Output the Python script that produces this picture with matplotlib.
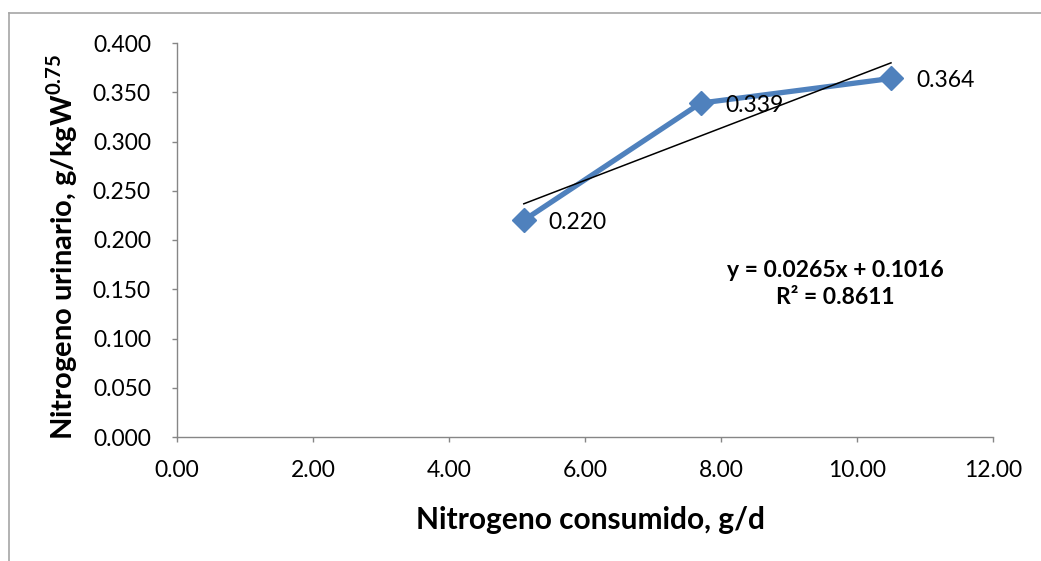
import matplotlib
matplotlib.use("Agg")
import matplotlib.pyplot as plt
from matplotlib.lines import Line2D
import numpy as np

plt.rcParams['font.family'] = ['Lato', 'DejaVu Sans']
plt.rcParams['mathtext.fontset'] = 'custom'
plt.rcParams['mathtext.bf'] = 'Lato:bold'
plt.rcParams['mathtext.rm'] = 'Lato'

x_vals = [5.1, 7.7, 10.5]
y_vals = [0.220, 0.339, 0.364]
point_labels = ["0.220", "0.339", "0.364"]
slope = 0.0265
intercept = 0.1016
eq_text = "y = 0.0265x + 0.1016\nR² = 0.8611"
x_ticks = [0, 2, 4, 6, 8, 10, 12]
y_ticks = [0.0, 0.05, 0.10, 0.15, 0.20, 0.25, 0.30, 0.35, 0.40]

W, H = 1041, 561
fig = plt.figure(figsize=(W / 100, H / 100), dpi=100)
ax = fig.add_axes([177 / W, 1 - 437 / H, (993 - 177) / W, (437 - 43) / H])

ax.plot(x_vals, y_vals, color="#4F81BD", lw=3.8, marker="D", markersize=12,
        markerfacecolor="#4F81BD", markeredgecolor="#4F81BD", zorder=3)

xt = np.array([x_vals[0], x_vals[-1]])
ax.plot(xt, slope * xt + intercept, color="black", lw=1.1, zorder=4)

for xv, yv, lab in zip(x_vals, y_vals, point_labels):
    ax.annotate(lab, (xv, yv), xytext=(18, -1.5), textcoords="offset points",
                ha="left", va="center", fontsize=16.5, color="black", zorder=5)

ax.text(9.68, 0.1553, eq_text, ha="center", va="center", fontsize=16.5,
        fontweight="bold", linespacing=1.3)

ax.set_xlim(0, 12)
ax.set_ylim(0, 0.4)
ax.set_xticks(x_ticks)
ax.set_yticks(y_ticks)
ax.set_xticklabels([f"{v:.2f}" for v in x_ticks])
ax.set_yticklabels([f"{v:.3f}" for v in y_ticks])

for s in ["top", "right"]:
    ax.spines[s].set_visible(False)
for s in ["left", "bottom"]:
    ax.spines[s].set_color("#868686")
    ax.spines[s].set_linewidth(1.0)
ax.tick_params(axis="both", direction="out", length=3.8, width=1.0,
               color="#868686", labelsize=16.5, labelcolor="black")
ax.tick_params(axis="x", pad=13)
ax.tick_params(axis="y", pad=15)

ax.set_xlabel("Nitrogeno consumido, g/d", fontsize=21.5, fontweight="bold")
ax.xaxis.set_label_coords((590 - 177) / 816, (437 - 520) / 394)
ax.xaxis.label.set_va("center")
ax.set_ylabel(r"Nitrogeno urinario, g/kgW$^{\mathbf{0.75}}$", fontsize=21,
              fontweight="bold")
ax.yaxis.set_label_coords((62 - 177) / 816, (437 - 247) / 394)
ax.yaxis.label.set_va("center")

fig.add_artist(Line2D([9 / W, 1.0], [1 - 13 / H, 1 - 13 / H], color="#A6A6A6", lw=1.2,
                      transform=fig.transFigure))
fig.add_artist(Line2D([9 / W, 9 / W], [0, 1 - 13 / H], color="#A6A6A6", lw=1.2,
                      transform=fig.transFigure))

fig.savefig("out.png", dpi=100, facecolor="white")
